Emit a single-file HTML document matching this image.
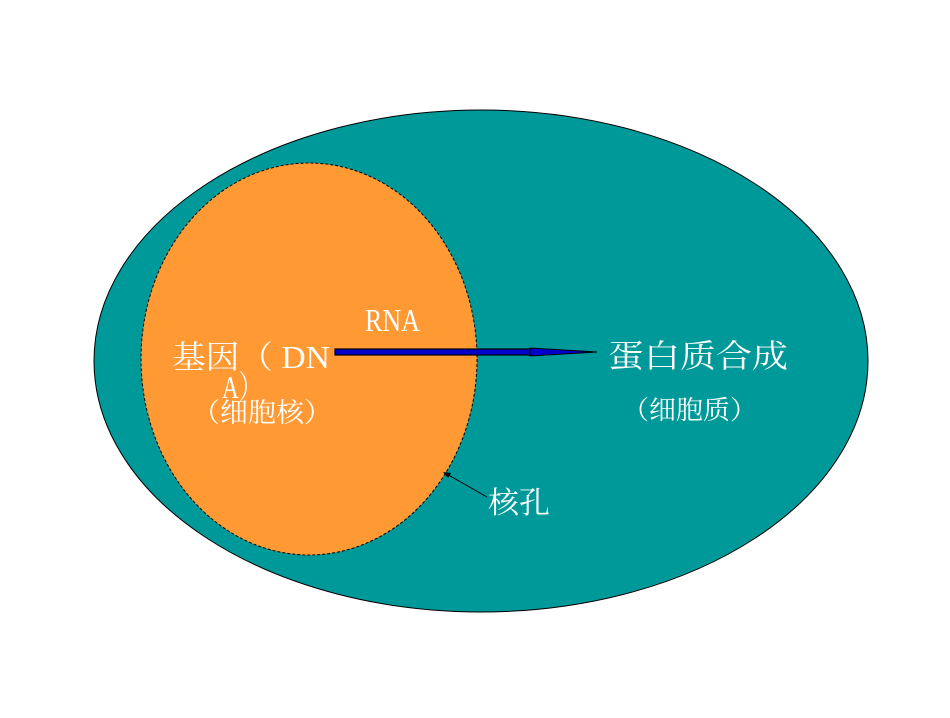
<!DOCTYPE html>
<html><head><meta charset="utf-8"><style>
body{margin:0;background:#fff;}
svg text{font-family:"Liberation Serif","Noto Serif CJK SC",serif;fill:#fff;}
</style></head><body>
<svg width="950" height="713" viewBox="0 0 950 713" xmlns="http://www.w3.org/2000/svg">
<ellipse cx="481" cy="361" rx="387" ry="251" fill="#009999" stroke="#000" stroke-width="1"/>
<ellipse cx="309" cy="359" rx="168" ry="196" fill="#FF9933" stroke="#000" stroke-width="1" stroke-dasharray="3,2"/>
<rect x="335" y="349" width="198" height="6" fill="#0000CC" stroke="#000" stroke-width="1.2"/>
<polygon points="530,348 597,352 530,356" fill="#0000CC" stroke="#000" stroke-width="1"/>
<line x1="445" y1="473" x2="487" y2="497" stroke="#000" stroke-width="1"/>
<polygon points="443,472 451,473 448,478" fill="#000"/>
<text x="172" y="368" font-size="32" textLength="158" lengthAdjust="spacingAndGlyphs">基因（ DN</text>
<text x="222" y="398" font-size="32" textLength="40" lengthAdjust="spacingAndGlyphs">A）</text>
<text x="192" y="422" font-size="27" textLength="140" lengthAdjust="spacingAndGlyphs">（细胞核）</text>
<text x="365" y="331" font-size="32" textLength="55" lengthAdjust="spacingAndGlyphs">RNA</text>
<text x="608" y="367" font-size="32" textLength="180" lengthAdjust="spacingAndGlyphs">蛋白质合成</text>
<text x="622" y="419" font-size="26" textLength="135" lengthAdjust="spacingAndGlyphs">（细胞质）</text>
<text x="488" y="513" font-size="30" textLength="62" lengthAdjust="spacingAndGlyphs">核孔</text>
</svg>
</body></html>
